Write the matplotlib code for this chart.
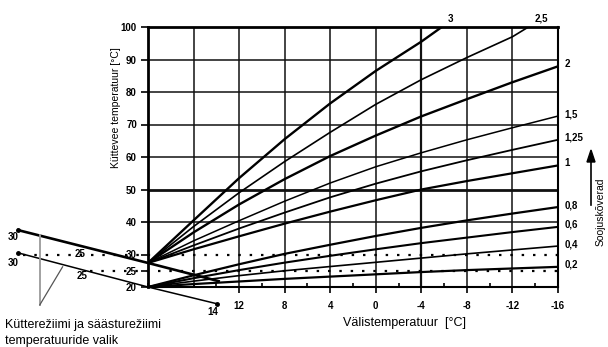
import matplotlib.pyplot as plt
from matplotlib.ticker import MultipleLocator

plt.rcParams['font.family'] = ['Liberation Sans', 'DejaVu Sans']

# outdoor temperature points (deg C) and flow temperatures
t_out = [20, 16, 12, 8, 4, 0, -4, -8, -12, -16]

curve_3_x = [20, 16, 12, 8, 4, 0, -4, -5.8]
curve_3 = [27.4, 40.5, 53.5, 65.5, 76.5, 86.5, 95.5, 100]
curve_25_x = [20, 16, 12, 8, 4, 0, -4, -8, -12, -13.4]
curve_25 = [27.4, 38.6, 49.0, 58.6, 67.6, 76.2, 83.8, 90.6, 97.0, 100]
curve_2 = [27.4, 36.8, 45.4, 53.2, 60.3, 66.6, 72.5, 77.8, 83.0, 87.9]
curve_15 = [27.4, 34.2, 40.4, 46.4, 52.0, 57.0, 61.3, 65.3, 69.0, 72.6]
curve_125 = [27.4, 32.8, 38.0, 42.9, 47.6, 51.8, 55.6, 59.0, 62.2, 65.3]
curve_1 = [27.4, 31.6, 35.6, 39.5, 43.2, 46.7, 50.0, 52.6, 55.0, 57.4]
curve_08 = [20, 23.6, 27.0, 30.2, 33.0, 35.7, 38.2, 40.5, 42.6, 44.6]
curve_06 = [20, 22.7, 25.2, 27.5, 29.6, 31.6, 33.5, 35.2, 36.9, 38.5]
curve_04 = [20, 21.8, 23.5, 25.0, 26.3, 27.6, 28.9, 30.2, 31.4, 32.6]
curve_02 = [20, 20.9, 21.7, 22.5, 23.2, 23.9, 24.6, 25.2, 25.7, 26.2]

right_labels = ['2', '1,5', '1,25', '1', '0,8', '0,6', '0,4', '0,2']
right_curves = [curve_2, curve_15, curve_125, curve_1, curve_08, curve_06, curve_04, curve_02]

# room temperature selector lines (left nomogram)
heat_line_x = [31.4, 20, 13.8]
heat_line_y = [37.5, 27.4, 21.8]
save_line_x = [31.4, 20, 13.9]
save_line_y = [30.5, 20, 14.8]

x_ticks = [12, 8, 4, 0, -4, -8, -12, -16]
y_ticks = [20, 25, 30, 40, 50, 60, 70, 80, 90, 100]

W, H = 608, 347
fig = plt.figure(figsize=(W / 100, H / 100), dpi=100)
ax = fig.add_axes([148 / W, 1 - 287 / H, 410 / W, 260 / H])
ax.set_xlim(20, -16)
ax.set_ylim(20, 100)

# grid
for x in [16, 12, 8, 4, 0, -8, -12]:
    ax.axvline(x, color='#111', lw=1.1, zorder=1)
ax.axvline(-4, color='#111', lw=1.6, zorder=1)
for y in [40, 60, 70, 80, 90]:
    ax.axhline(y, color='#111', lw=1.1, zorder=1)
ax.axhline(50, color='#111', lw=2.0, zorder=1)

# dotted reference lines
ax.plot([31.0, -16], [30, 30], color='black', lw=1.6, ls=(0, (1.1, 4)), clip_on=False)
ax.plot([25.1, -16], [25, 25], color='black', lw=1.6, ls=(0, (1.1, 4)), clip_on=False)

# heating curves
ax.plot(curve_3_x, curve_3, color='black', lw=1.7)
ax.plot(curve_25_x, curve_25, color='black', lw=1.2)
lws = [1.7, 1.1, 1.3, 1.6, 1.6, 1.5, 1.2, 1.6]
for vals, lw in zip(right_curves, lws):
    ax.plot(t_out, vals, color='black', lw=lw)

# nomogram lines
ax.plot(heat_line_x, heat_line_y, color='black', lw=1.9, clip_on=False)
ax.plot(save_line_x, save_line_y, color='black', lw=1.1, clip_on=False)
ax.plot([heat_line_x[0], save_line_x[0], save_line_x[-1]],
        [heat_line_y[0], save_line_y[0], save_line_y[-1]],
        'o', color='black', ms=2.5, clip_on=False)
ax.plot([29.5, 29.5], [36.0, 14.5], color='#9a9a9a', lw=1.3, clip_on=False)
ax.plot([27.5, 29.5], [26.2, 14.5], color='#555', lw=0.9, clip_on=False)

bold = dict(fontsize=7, fontweight='bold')
ax.text(31.4, 35.3, '30', ha='right', va='center', **bold)
ax.text(31.4, 27.5, '30', ha='right', va='center', **bold)
ax.text(26.0, 30.2, '25', ha='center', va='center', **bold)
ax.text(25.8, 23.4, '25', ha='center', va='center', **bold)
ax.text(14.3, 12.3, '14', ha='center', va='center', **bold)

# curve labels
ax.text(-6.6, 102.5, '3', ha='center', va='center', **bold)
ax.text(-14.5, 102.5, '2,5', ha='center', va='center', **bold)
for lab, vals in zip(right_labels, right_curves):
    ax.text(-16.6, vals[-1] + 0.6, lab, ha='left', va='center', **bold)

# axes styling
ax.spines['left'].set_linewidth(2.0)
ax.spines['top'].set_linewidth(2.0)
ax.spines['right'].set_linewidth(1.5)
ax.spines['bottom'].set_linewidth(1.5)
ax.set_xticks(x_ticks)
ax.set_xticklabels([str(v) for v in x_ticks])
ax.xaxis.set_minor_locator(MultipleLocator(2))
ax.set_yticks(y_ticks)
ax.set_yticklabels([str(v) for v in y_ticks])
ax.tick_params(axis='x', which='major', direction='out', length=4, width=1.2,
               labelsize=7, pad=6)
ax.tick_params(axis='x', which='minor', direction='in', length=3, width=1.2)
ax.tick_params(axis='y', which='major', direction='out', length=5, width=1.2,
               labelsize=7, pad=3)
for lab in ax.get_xticklabels() + ax.get_yticklabels():
    lab.set_fontweight('bold')

fig.text(116 / W, 1 - 108 / H, 'Küttevee temperatuur [°C]', rotation=90,
         ha='center', va='center', fontsize=7.5)
fig.text(405 / W, 1 - 323 / H, 'Välistemperatuur  [°C]', ha='center',
         va='center', fontsize=9)
fig.text(5 / W, 1 - 325 / H, 'Kütterežiimi ja säästurežiimi', ha='left',
         va='center', fontsize=9)
fig.text(5 / W, 1 - 341 / H, 'temperatuuride valik', ha='left',
         va='center', fontsize=9)
fig.text(601 / W, 1 - 212 / H, 'Soojuskõverad', rotation=90, ha='center',
         va='center', fontsize=7.5)

# arrow next to the curve labels
fig.add_artist(plt.Line2D([591 / W, 591 / W], [1 - 205 / H, 1 - 160 / H],
                          color='black', lw=1.2))
fig.add_artist(plt.Polygon([[587 / W, 1 - 162 / H], [595 / W, 1 - 162 / H],
                            [591 / W, 1 - 150 / H]], closed=True,
                           color='black'))

fig.savefig('out.png', dpi=100)
